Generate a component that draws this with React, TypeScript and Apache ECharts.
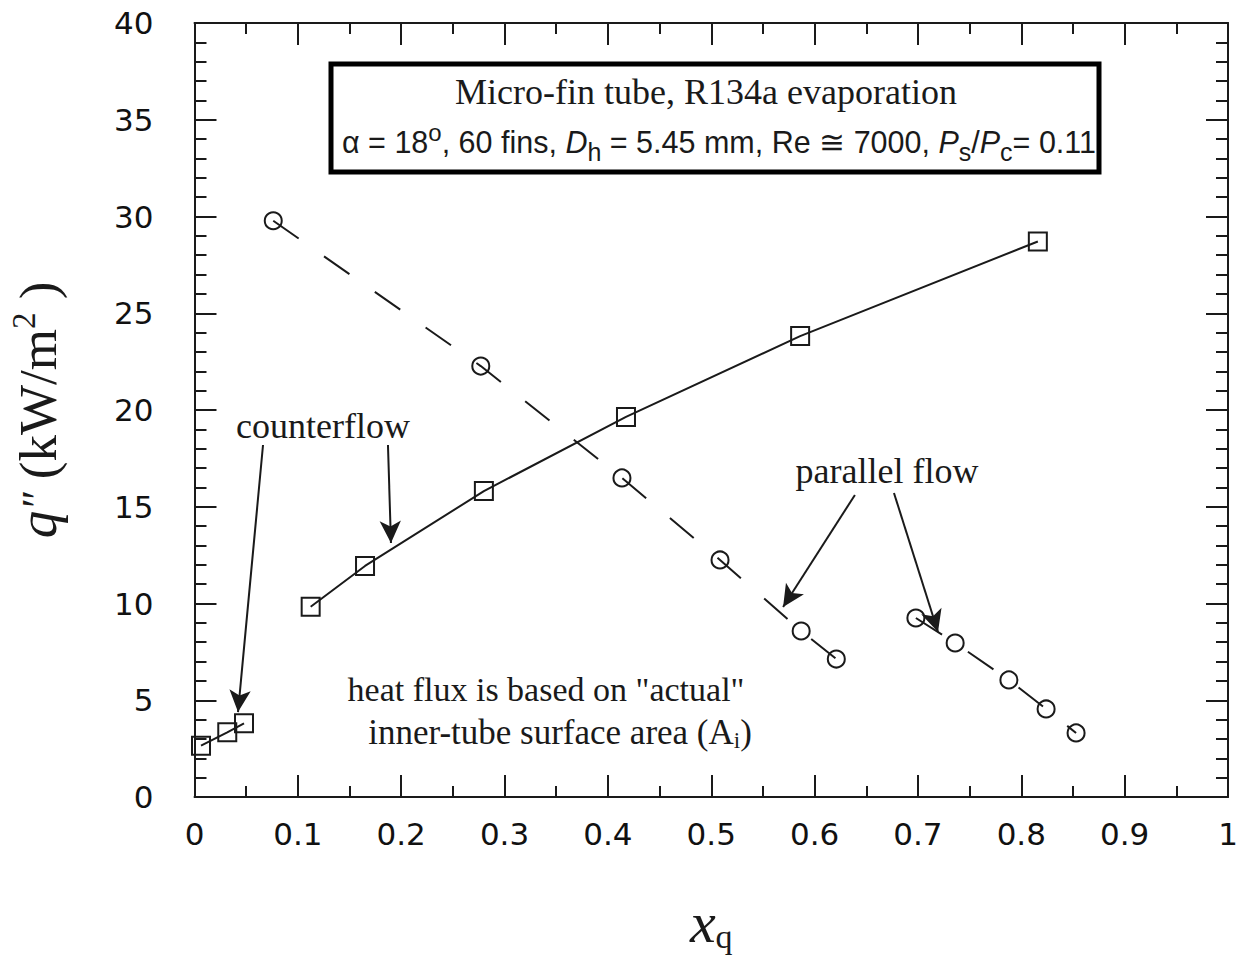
import React, { useEffect, useRef } from 'react';
import * as echarts from 'echarts';

// Axis ranges
const X_MIN = 0;
const X_MAX = 1;
const X_INTERVAL = 0.1;
const Y_MIN = 0;
const Y_MAX = 40;
const Y_INTERVAL = 5;

// Data (x = vapour quality, y = heat flux kW/m2)
const counterflowLow: number[][] = [
  [0.0063, 2.65],
  [0.0317, 3.34],
  [0.0479, 3.81],
];
const counterflowMain: number[][] = [
  [0.1124, 9.83],
  [0.165, 11.94],
  [0.28, 15.81],
  [0.4175, 19.64],
  [0.586, 23.82],
  [0.816, 28.71],
];
const parallelHigh: number[][] = [
  [0.0762, 29.78],
  [0.277, 22.27],
  [0.4136, 16.49],
  [0.5085, 12.25],
  [0.587, 8.58],
  [0.621, 7.13],
];
const parallelLow: number[][] = [
  [0.698, 9.25],
  [0.736, 7.96],
  [0.788, 6.05],
  [0.824, 4.55],
  [0.853, 3.31],
];

// Annotation arrows (data coordinates: from -> to)
const arrows: number[][][] = [
  [[0.0663, 18.19], [0.0421, 4.39]],
  [[0.1872, 18.19], [0.1901, 13.13]],
  [[0.639, 15.61], [0.5695, 9.82]],
  [[0.6768, 15.71], [0.7194, 8.53]],
];

const INK = '#1a1a1a';
const SERIF = '"Liberation Serif", "Times New Roman", serif';
const SANS = '"Liberation Sans", Arial, sans-serif';
const TICKFONT = '"DejaVu Sans", Verdana, sans-serif';

export default function App() {
  const ref = useRef<HTMLDivElement>(null);

  useEffect(() => {
    if (!ref.current) return;
    const chart = echarts.init(ref.current, undefined, { renderer: 'svg' });

    const axisLine = { show: true, onZero: false, lineStyle: { color: INK, width: 2 } };
    const axisTick = { show: true, inside: true, length: 22, lineStyle: { color: INK, width: 2 } };
    const xMinor = { show: true, splitNumber: 2, length: 11, lineStyle: { color: INK, width: 2 } };
    const yMinor = { show: true, splitNumber: 5, length: 12, lineStyle: { color: INK, width: 2 } };
    const tickFont = { fontFamily: TICKFONT, fontSize: 31, color: '#111' };

    const fmt = (v: number) => String(Math.round(v * 10) / 10);

    const markerItem = { color: 'rgba(0,0,0,0)', borderColor: INK, borderWidth: 2 };
    const solidLine = { color: INK, width: 2, type: 'solid' as const };
    const dashLine = { color: INK, width: 2, type: [31, 31] as any };

    const option: any = {
      animation: false,
      backgroundColor: '#ffffff',
      grid: { left: 194.5, right: 10, top: 23, bottom: 167, containLabel: false, outerBoundsMode: 'none' },
      xAxis: [
        {
          type: 'value',
          min: X_MIN,
          max: X_MAX,
          interval: X_INTERVAL,
          position: 'bottom',
          axisLine,
          axisTick,
          minorTick: xMinor,
          splitLine: { show: false },
          axisLabel: { ...tickFont, margin: 21, formatter: fmt },
          name: '{x|x}{sub|q}',
          nameLocation: 'middle',
          nameGap: 96,
          nameTextStyle: {
            rich: {
              x: { fontFamily: SERIF, fontStyle: 'italic', fontSize: 58, color: INK, lineHeight: 60, verticalAlign: 'top' },
              sub: { fontFamily: SERIF, fontSize: 34, color: INK, lineHeight: 34, verticalAlign: 'bottom' },
            },
          },
        },
        {
          type: 'value',
          min: X_MIN,
          max: X_MAX,
          interval: X_INTERVAL,
          position: 'top',
          axisLine,
          axisTick,
          minorTick: xMinor,
          splitLine: { show: false },
          axisLabel: { show: false },
        },
      ],
      yAxis: [
        {
          type: 'value',
          min: Y_MIN,
          max: Y_MAX,
          interval: Y_INTERVAL,
          position: 'left',
          axisLine,
          axisTick,
          minorTick: yMinor,
          splitLine: { show: false },
          axisLabel: { ...tickFont, margin: 41, formatter: fmt },
          name: '{q|q}{pp|″}{n| (kW/m}{sup|2}{n| )}',
          nameLocation: 'middle',
          nameRotate: 90,
          nameGap: 127,
          nameTextStyle: {
            rich: {
              q: { fontFamily: SERIF, fontStyle: 'italic', fontSize: 55, color: INK, lineHeight: 60 },
              pp: { fontFamily: SERIF, fontStyle: 'italic', fontSize: 44, color: INK, lineHeight: 60 },
              n: { fontFamily: SERIF, fontSize: 53, color: INK, lineHeight: 60 },
              sup: { fontFamily: SERIF, fontSize: 33, color: INK, lineHeight: 30, verticalAlign: 'top' },
            },
          },
        },
        {
          type: 'value',
          min: Y_MIN,
          max: Y_MAX,
          interval: Y_INTERVAL,
          position: 'right',
          axisLine,
          axisTick,
          minorTick: yMinor,
          splitLine: { show: false },
          axisLabel: { show: false },
        },
      ],
      series: [
        {
          name: 'counterflow (low)',
          type: 'line',
          data: counterflowLow,
          symbol: 'rect',
          symbolSize: 18,
          itemStyle: markerItem,
          lineStyle: solidLine,
          z: 3,
        },
        {
          name: 'counterflow',
          type: 'line',
          data: counterflowMain,
          symbol: 'rect',
          symbolSize: 18,
          itemStyle: markerItem,
          lineStyle: solidLine,
          z: 3,
          markLine: {
            silent: true,
            symbol: ['none', 'arrow'],
            symbolSize: [16, 22],
            label: { show: false },
            lineStyle: { color: INK, width: 2, type: 'solid' },
            itemStyle: { color: INK },
            data: arrows.map(([a, b]) => [{ coord: a }, { coord: b }]),
          },
        },
        {
          name: 'parallel flow (high)',
          type: 'line',
          data: parallelHigh,
          symbol: 'circle',
          symbolSize: 17,
          itemStyle: markerItem,
          lineStyle: dashLine,
          z: 3,
        },
        {
          name: 'parallel flow (low)',
          type: 'line',
          data: parallelLow,
          symbol: 'circle',
          symbolSize: 17,
          itemStyle: markerItem,
          lineStyle: dashLine,
          z: 3,
        },
      ],
      graphic: [
        {
          type: 'rect',
          shape: { x: 331, y: 64, width: 768, height: 108 },
          style: { fill: '#fff', stroke: '#000', lineWidth: 5 },
          z: 10,
        },
        {
          type: 'text',
          x: 706,
          y: 92,
          z: 11,
          style: {
            text: 'Micro-fin tube, R134a evaporation',
            fontFamily: SERIF,
            fontSize: 36,
            fill: INK,
            align: 'center',
            verticalAlign: 'middle',
          },
        },
        {
          type: 'text',
          x: 719,
          y: 142,
          z: 11,
          style: {
            text: '{s|α = 18}{sup|o}{s|, 60 fins, }{i|D}{sub|h}{s| = 5.45 mm, Re ≅ 7000, }{i|P}{sub|s}{s|/}{i|P}{sub|c}{s|= 0.11}',
            align: 'center',
            verticalAlign: 'middle',
            fill: INK,
            rich: {
              s: { fontFamily: SANS, fontSize: 30.5, fill: INK, lineHeight: 44 },
              i: { fontFamily: SANS, fontStyle: 'italic', fontSize: 30.5, fill: INK, lineHeight: 44 },
              sup: { fontFamily: SANS, fontSize: 24, fill: INK, lineHeight: 4, verticalAlign: 'top' },
              sub: { fontFamily: SANS, fontSize: 25, fill: INK, lineHeight: 26, verticalAlign: 'bottom' },
            },
          },
        },
        {
          type: 'text',
          x: 323,
          y: 426,
          z: 11,
          style: { text: 'counterflow', fontFamily: SERIF, fontSize: 36, fill: INK, align: 'center', verticalAlign: 'middle' },
        },
        {
          type: 'text',
          x: 887,
          y: 471,
          z: 11,
          style: { text: 'parallel flow', fontFamily: SERIF, fontSize: 36, fill: INK, align: 'center', verticalAlign: 'middle' },
        },
        {
          type: 'text',
          x: 546,
          y: 689,
          z: 11,
          style: { text: 'heat flux is based on "actual"', fontFamily: SERIF, fontSize: 34, fill: INK, align: 'center', verticalAlign: 'middle' },
        },
        {
          type: 'text',
          x: 560,
          y: 732,
          z: 11,
          style: {
            text: '{t|inner-tube surface area (A}{sub|i}{t|)}',
            align: 'center',
            verticalAlign: 'middle',
            fill: INK,
            rich: {
              t: { fontFamily: SERIF, fontSize: 35, fill: INK, lineHeight: 40 },
              sub: { fontFamily: SERIF, fontSize: 23, fill: INK, lineHeight: 22, verticalAlign: 'bottom' },
            },
          },
        },
      ],
    };

    chart.setOption(option);
    return () => chart.dispose();
  }, []);

  return <div ref={ref} style={{ width: 1238, height: 964, position: 'absolute', left: 0, top: 0, background: '#fff' }} />;
}
